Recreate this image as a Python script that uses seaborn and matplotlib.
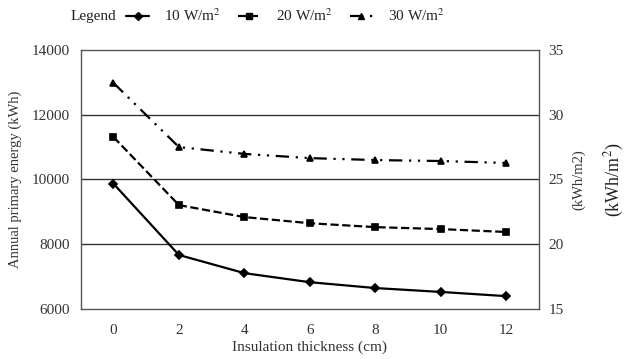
import pandas as pd
import seaborn as sns
import matplotlib.pyplot as plt

thickness = ['0', '2', '4', '6', '8', '10', '12']
e10 = [9870, 7670, 7110, 6830, 6650, 6530, 6400]
e20 = [11310, 9210, 8840, 8650, 8530, 8470, 8380]
e30 = [12980, 11000, 10790, 10660, 10600, 10570, 10510]
loads = ['10 W/m$^2$', '20 W/m$^2$', '30 W/m$^2$']

df = pd.DataFrame({
    'thickness': thickness * 3,
    'energy': e10 + e20 + e30,
    'load': [loads[0]] * 7 + [loads[1]] * 7 + [loads[2]] * 7,
})

sns.set_style('white')
plt.rcParams['font.family'] = ['Liberation Serif', 'DejaVu Serif']
plt.rcParams['mathtext.fontset'] = 'stix'

fig = plt.figure(figsize=(6.31, 3.59), dpi=100)
ax = fig.add_axes([0.128, 0.139, 0.726, 0.722])

dashdot = (0, (6, 3, 1, 3, 1, 3))
ax = sns.pointplot(data=df, x='thickness', y='energy', hue='load', order=thickness,
                   hue_order=loads, palette=['black'] * 3, markers=['D', 's', '^'],
                   linestyles=['-', '--', dashdot],
                   markersize=4, linewidth=1.6, ax=ax, legend=False)
ax.set_xlim(-0.5, 6.5)
ax.set_ylim(6000, 14000)
ax.set_yticks([6000, 8000, 10000, 12000, 14000])
for y in [8000, 10000, 12000]:
    ax.axhline(y, color='#333333', lw=1, zorder=0)
for s in ax.spines.values():
    s.set_color('#555555')
    s.set_linewidth(1)
ax.tick_params(axis='y', length=0, labelsize=11, colors='#333333', pad=8)
ax.tick_params(axis='x', length=0, labelsize=11, colors='#333333', pad=11)
ax.set_xlabel('Insulation thickness (cm)', fontsize=11, color='#333333', labelpad=2)
ax.set_ylabel('Annual primary energy (kWh)', fontsize=10.5, color='#333333', labelpad=7)

ax2 = ax.twinx()
ax2.set_ylim(15, 35)
ax2.set_yticks([15, 20, 25, 30, 35])
ax2.tick_params(length=0, labelsize=11, colors='#333333', pad=7)
ax2.set_ylabel('(kWh/m2)', fontsize=10.5, color='#333333', labelpad=6)
for s in ax2.spines.values():
    s.set_visible(False)
fig.text(0.974, 0.5, '(kWh/m$^2$)', rotation=90, ha='center', va='center',
         fontsize=13, color='#222222')

handles = [plt.Line2D([], [], color='black', lw=1.6, ls=ls, marker=m, markersize=ms)
           for ls, m, ms in [('-', 'D', 4), ('--', 's', 5), ((0, (6, 3, 1, 3)), '^', 5)]]
fig.legend(handles, loads, loc='center left', bbox_to_anchor=(0.2, 0.955), ncol=3,
           frameon=False, fontsize=11, handlelength=1.5, handletextpad=1.0,
           columnspacing=1.1, borderpad=0, borderaxespad=0, labelcolor='#222222')
fig.text(0.111, 0.955, 'Legend', ha='left', va='center', fontsize=11, color='#222222')

fig.savefig('out.png', dpi=100)
